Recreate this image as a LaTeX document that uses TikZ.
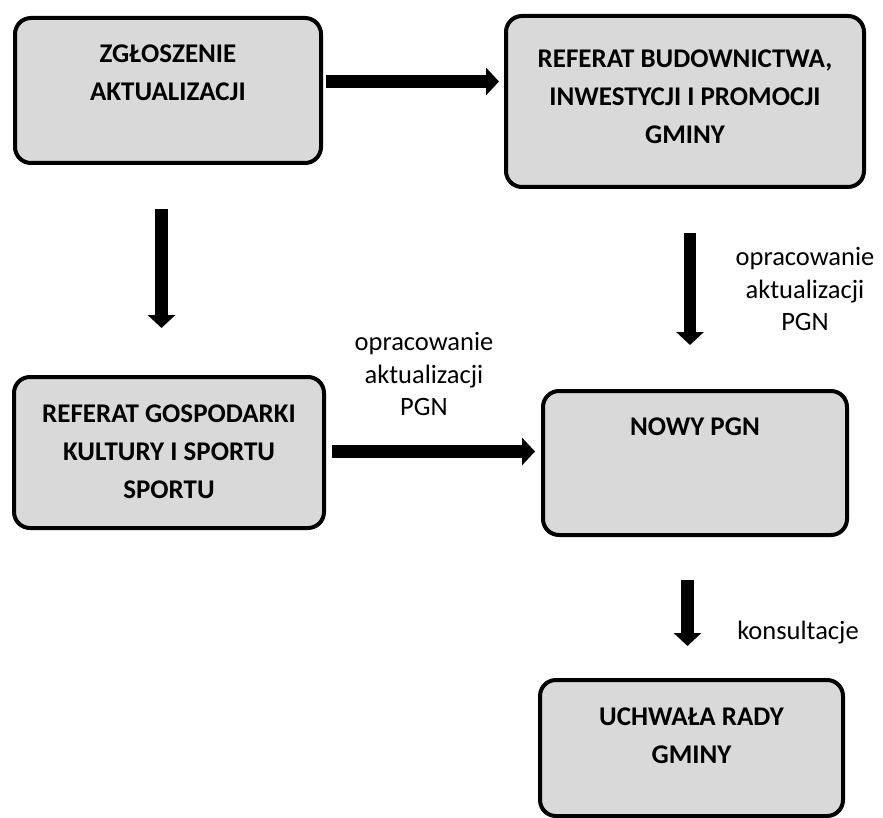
\documentclass[tikz,border=0pt]{standalone}
\usepackage{fontspec}
\setmainfont{Carlito}
\usetikzlibrary{positioning,arrows.meta}
\definecolor{boxgray}{HTML}{D9D9D9}

\begin{document}
\begin{tikzpicture}
    [x=1pt,y=-1pt,
     box/.style={rectangle,rounded corners=16pt,draw=black,line width=4pt,fill=boxgray},
     boxtext/.style={anchor=north,align=center,inner sep=0pt,font=\fontsize{27}{38}\selectfont\bfseries},
     flow/.style={line width=12.5pt,-{Triangle[width=27pt,length=13pt]}},
     note/.style={align=center,inner sep=0pt,font=\fontsize{26.5}{32.5}\selectfont}]

    \useasboundingbox (0,0) rectangle (883,818);

    \node[box,minimum width=306pt,minimum height=145pt] (zgl) at (168,90.5)
      [label={[boxtext,yshift=-28.5pt]north:{ZGŁOSZENIE\\AKTUALIZACJI}}] {};

    \node[box,minimum width=358pt,minimum height=171pt] (ref) [right=181pt of zgl,yshift=-11pt]
      [label={[boxtext,yshift=-35.5pt]north:{REFERAT BUDOWNICTWA,\\INWESTYCJI I PROMOCJI\\GMINY}}] {};

    \node[box,minimum width=310pt,minimum height=151pt] (gosp) [below=210pt of zgl,xshift=1pt]
      [label={[boxtext,yshift=-29.5pt]north:{REFERAT GOSPODARKI\\KULTURY I SPORTU\\SPORTU}}] {};

    \node[box,minimum width=304pt,minimum height=144pt] (nowy) [right=215pt of gosp,yshift=-10.5pt]
      [label={[boxtext,yshift=-28.5pt]north:{NOWY PGN}}] {};

    \node[box,minimum width=303pt,minimum height=136pt] (uchw) [below=141pt of nowy,xshift=-3.5pt]
      [label={[boxtext,yshift=-29.5pt]north:{UCHWAŁA RADY\\GMINY}}] {};

    \draw[flow,shorten <=3pt,shorten >=5pt] ([yshift=9pt]zgl.east) -- ([yshift=9pt]zgl.east -| ref.west);

    \draw[flow,shorten <=44pt,shorten >=47pt] ([xshift=-6.5pt]zgl.south) -- ([xshift=-6.5pt]zgl.south |- gosp.north);

    \draw[flow,shorten <=44pt,shorten >=44pt] ([xshift=5pt]ref.south) -- ([xshift=5pt]ref.south |- nowy.north)
      node[note,midway,xshift=115pt] {opracowanie\\aktualizacji\\PGN};

    \draw[flow,shorten <=6pt,shorten >=6pt] ([yshift=1pt]gosp.east) -- ([yshift=1pt]gosp.east -| nowy.west)
      node[note,midway,xshift=-9.5pt,yshift=77.5pt] {opracowanie\\aktualizacji\\PGN};

    \draw[flow,shorten <=43pt,shorten >=32pt] ([xshift=-7.5pt]nowy.south) -- ([xshift=-7.5pt]nowy.south |- uchw.north)
      node[note,midway,xshift=110.5pt,yshift=-25.5pt] {konsultacje};
\end{tikzpicture}
\end{document}
